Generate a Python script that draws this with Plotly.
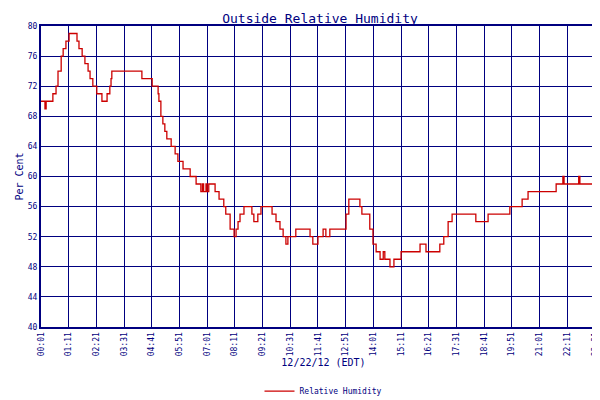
import plotly.graph_objects as go

# minutes since midnight where the reading changes, and the reading (per cent)
minutes = [1, 11, 14, 29, 31, 39, 44, 52, 57, 64,
           72, 92, 97, 105, 112, 120, 125, 132, 142, 155,
           168, 175, 178, 180, 185, 256, 282, 297, 299, 304,
           309, 314, 319, 330, 340, 347, 360, 378, 393, 405,
           409, 412, 418, 421, 425, 441, 451, 463, 468, 479,
           489, 494, 499, 504, 514, 534, 539, 549, 557, 585,
           595, 605, 613, 620, 625, 630, 645, 681, 688, 701,
           714, 721, 731, 772, 779, 807, 812, 832, 840, 848,
           858, 866, 870, 883, 893, 911, 959, 974, 1009, 1019,
           1030, 1040, 1100, 1131, 1186, 1217, 1232, 1303, 1320, 1323,
           1360, 1363, 1404, 1416, 1429]
humidity = [70, 69, 70, 70, 71, 72, 74, 76, 77, 78,
            79, 78, 77, 76, 75, 74, 73, 72, 71, 70,
            71, 72, 73, 74, 74, 73, 72, 71, 70, 68,
            67, 66, 65, 64, 63, 62, 61, 60, 59, 58,
            59, 58, 59, 58, 59, 58, 57, 56, 55, 53,
            52, 53, 54, 55, 56, 55, 54, 55, 56, 55,
            54, 53, 52, 51, 52, 52, 53, 52, 51, 52,
            53, 52, 53, 55, 57, 56, 55, 53, 51, 50,
            49, 50, 49, 48, 49, 50, 51, 50, 51, 52,
            54, 55, 54, 55, 56, 57, 58, 59, 60, 59,
            60, 59, 60, 61, 62]
tick_vals = [1 + 70 * i for i in range(21)] + [1429]
tick_text = ["%02d:%02d" % divmod(v, 60) for v in tick_vals]

navy = "#000080"
fig = go.Figure()
fig.add_trace(go.Scatter(x=minutes, y=humidity, mode="lines", line_shape="hv",
                         line=dict(color="#cc0000", width=1.3), name="Relative Humidity"))

fig.update_layout(
    width=600, height=400, paper_bgcolor="white", plot_bgcolor="white",
    margin=dict(l=33, r=2, t=18, b=62),
    font=dict(family="DejaVu Sans Mono", color=navy, size=8),
    title=dict(text="Outside Relative Humidity", x=0.52, y=0.985, yanchor="top",
               font=dict(size=13, color=navy)),
    showlegend=True,
    legend=dict(orientation="h", x=0.5, xanchor="center", y=-0.165, yanchor="top",
                font=dict(size=8, color=navy)),
)
fig.update_xaxes(range=[1, 1429], tickvals=tick_vals, ticktext=tick_text, tickangle=-90,
                 automargin=False, showgrid=True, gridcolor=navy, gridwidth=1,
                 showline=True, linecolor=navy, mirror=True, linewidth=2,
                 title=dict(text="12/22/12 (EDT)", standoff=4, font=dict(size=10)),
                 zeroline=False)
fig.update_yaxes(range=[40, 80], dtick=4, automargin=False, showgrid=True, gridcolor=navy,
                 gridwidth=1, showline=True, linecolor=navy, mirror=True, linewidth=2,
                 title=dict(text="Per Cent", standoff=2, font=dict(size=10)), zeroline=False)

fig.write_html("out.html")
